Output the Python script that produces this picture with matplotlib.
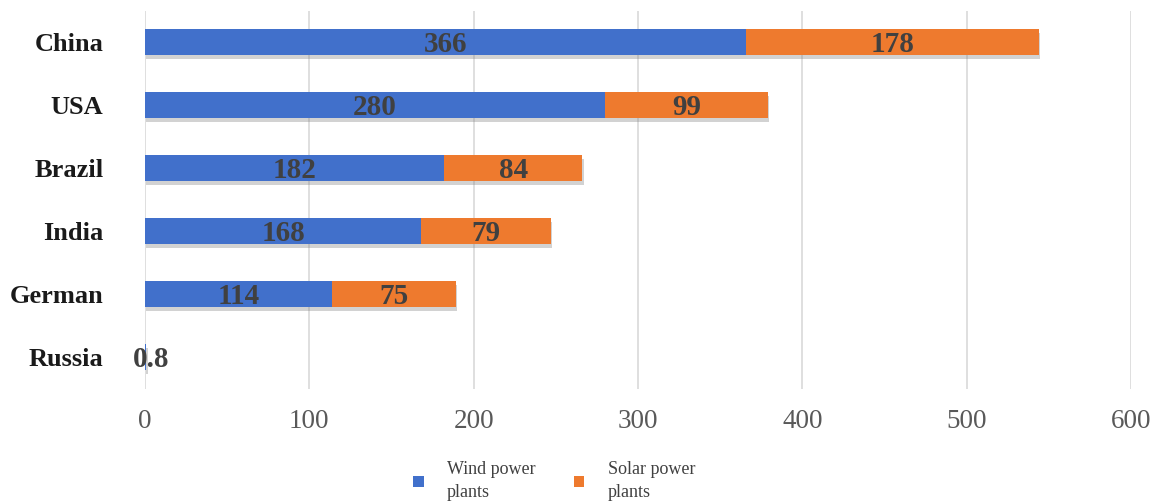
import numpy as np
import matplotlib
matplotlib.use("Agg")
import matplotlib.pyplot as plt
import matplotlib.patheffects as pe

plt.rcParams['font.family'] = ['Liberation Serif', 'DejaVu Serif']

# data
countries = ['China', 'USA', 'Brazil', 'India', 'German', 'Russia']
wind = [366, 280, 182, 168, 114, 0.8]
solar = [178, 99, 84, 79, 75, 0]
wind_labels = ['366', '280', '182', '168', '114', '0.8']
solar_labels = ['178', '99', '84', '79', '75', '']
xticks = [0, 100, 200, 300, 400, 500, 600]

fig = plt.figure(figsize=(11.64, 5.04), dpi=100)
ax = fig.add_axes([0.1246, 0.229, 0.847, 0.75])

y = np.arange(len(countries))
h = 0.42
shadow = [pe.SimplePatchShadow(offset=(1, -3), shadow_rgbFace='#808080', alpha=0.35), pe.Normal()]

b1 = ax.barh(y, wind, height=h, color='#4170CB', label='Wind power\nplants', zorder=3)
b2 = ax.barh(y, solar, left=wind, height=h, color='#EE7A2E', label='Solar power\nplants', zorder=3)
for b in list(b1) + list(b2):
    b.set_path_effects(shadow)

for i in range(len(countries)):
    ax.text(wind[i] / 2 if wind[i] > 5 else 4, y[i] + 0.04, wind_labels[i], ha='center', va='center',
            fontsize=21, fontweight='bold', color='#404040', zorder=5)
    if solar_labels[i]:
        ax.text(wind[i] + solar[i] / 2, y[i] + 0.04, solar_labels[i], ha='center', va='center',
                fontsize=21, fontweight='bold', color='#404040', zorder=5)

ax.set_xlim(0, 600)
ax.set_ylim(len(countries) - 0.5, -0.5)
ax.set_xticks(xticks)
ax.set_xticklabels([str(t) for t in xticks], fontsize=19.5, color='#595959')
ax.set_yticks(y)
ax.set_yticklabels(countries, fontsize=19, fontweight='bold', color='#1a1a1a')
ax.tick_params(axis='y', length=0, pad=30)
ax.tick_params(axis='x', length=0, pad=15)
for s in ax.spines.values():
    s.set_visible(False)
ax.grid(axis='x', color='#D9D9D9', linewidth=1.2, zorder=0)
ax.set_axisbelow(True)

leg = fig.legend(handles=[b1, b2], loc='center', bbox_to_anchor=(0.476, 0.045), ncol=2,
                 frameon=False, fontsize=13, handlelength=0.6, handleheight=0.6,
                 columnspacing=2.1, handletextpad=1.3, labelspacing=0.2)
for t in leg.get_texts():
    t.set_color('#404040')
    t.set_linespacing(1.45)
for p in leg.get_patches():
    p.set_path_effects([])

fig.savefig('out.png', dpi=100)
